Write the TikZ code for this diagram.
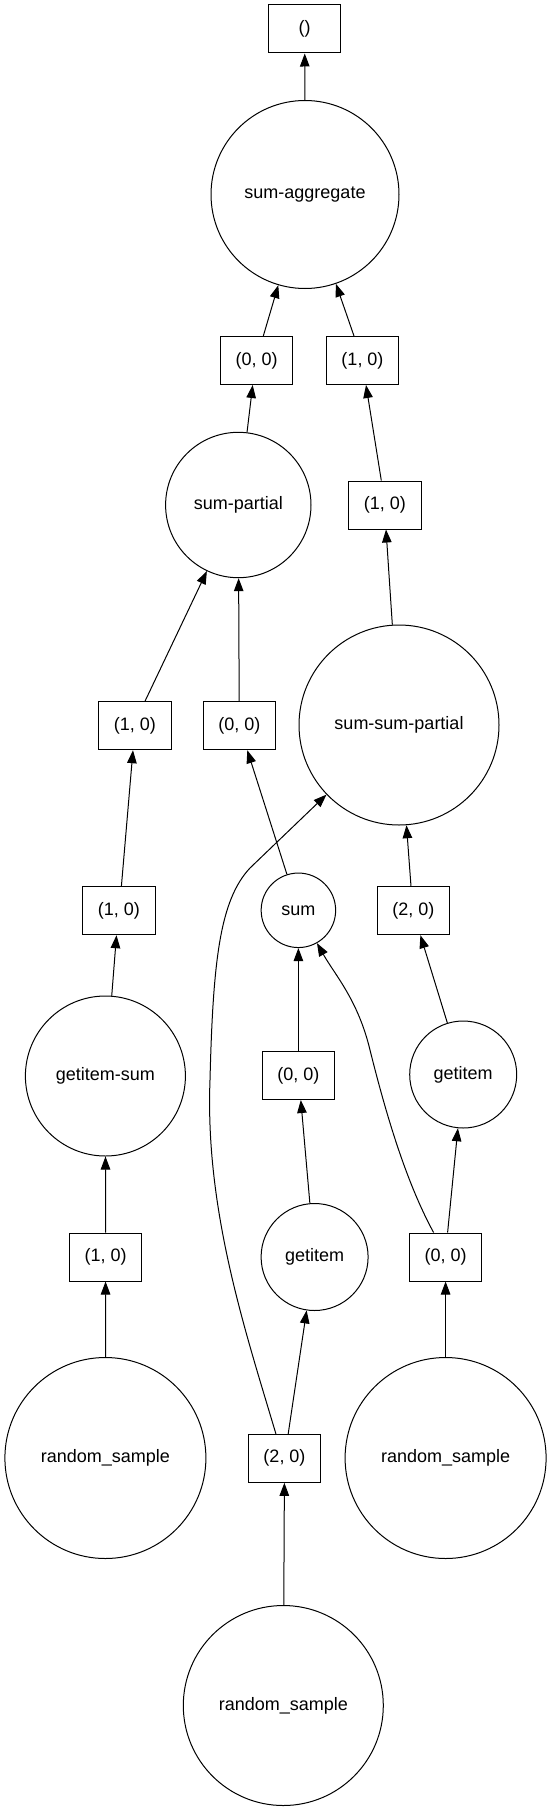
\documentclass[tikz,border=0pt]{standalone}
\usepackage{fontspec}
\setmainfont{Liberation Sans}
\usetikzlibrary{arrows.meta}
\begin{document}
\begin{tikzpicture}[x=1pt,y=-1pt,
  every node/.style={font=\fontsize{18}{21}\selectfont},
  circ/.style={draw,circle,inner sep=0pt,line width=1pt},
  box/.style={draw,rectangle,minimum width=72.5pt,minimum height=48pt,inner sep=0pt,line width=1pt},
  edge/.style={line width=1pt,-{Triangle[length=13pt,width=9.5pt]}}]
\fill[white] (0,0) rectangle (549,1811);
\useasboundingbox (0,0) rectangle (549,1811);
% nodes
\node[box] (top) at (304.7,29) {()};
\node[circ,minimum size=188pt] (agg) at (305,194.5) {sum-aggregate};
\node[box] (a00) at (256.7,360.5) {(0, 0)};
\node[box] (a10) at (362.5,360.5) {(1, 0)};
\node[circ,minimum size=145.4pt] (sp) at (238.3,505) {sum-partial};
\node[box] (b10) at (384.8,505) {(1, 0)};
\node[circ,minimum size=200pt] (ssp) at (399,725) {sum-sum-partial};
\node[box] (c10) at (135,725.7) {(1, 0)};
\node[box] (c00) at (239.3,725.7) {(0, 0)};
\node[box] (d10) at (118.8,910.7) {(1, 0)};
\node[circ,minimum size=74.5pt] (sum) at (298.4,910.3) {sum};
\node[box] (d20) at (413.4,910.7) {(2, 0)};
\node[circ,minimum size=160pt] (gs) at (105.4,1076) {getitem-sum};
\node[box] (e00) at (298.4,1075.5) {(0, 0)};
\node[circ,minimum size=107pt] (gr) at (463.2,1074.5) {getitem};
\node[box] (f10) at (105.6,1257) {(1, 0)};
\node[circ,minimum size=107pt] (gm) at (314.6,1257) {getitem};
\node[box] (f00) at (445.6,1257) {(0, 0)};
\node[circ,minimum size=201pt] (rl) at (105.4,1458) {random\_sample};
\node[box] (g20) at (284.5,1458.3) {(2, 0)};
\node[circ,minimum size=201pt] (rr) at (445.6,1458) {random\_sample};
\node[circ,minimum size=200pt] (rb) at (283.3,1705.5) {random\_sample};
% edges
\draw[edge] (agg) -- (top);
\draw[edge] ([xshift=6.6pt]a00.north) -- (agg);
\draw[edge] ([xshift=-8.5pt]a10.north) -- (agg);
\draw[edge] (sp) -- ([xshift=-4pt]a00.south);
\draw[edge] ([xshift=-3.5pt]b10.north) -- ([xshift=3.5pt]a10.south);
\draw[edge] (ssp) -- ([xshift=1.2pt]b10.south);
\draw[edge] ([xshift=10pt]c10.north) -- (sp);
\draw[edge] (c00) -- (sp);
\draw[edge] ([xshift=2.6pt]d10.north) -- ([xshift=-2pt]c10.south);
\draw[edge] (sum) -- ([xshift=8pt]c00.south);
\draw[edge] ([xshift=-2.4pt]d20.north) -- (ssp);
\draw[edge] (gs) -- ([xshift=-2.3pt]d10.south);
\draw[edge] (e00) -- (sum);
\draw[edge] (gr) -- ([xshift=7pt]d20.south);
\draw[edge] (f10) -- (gs);
\draw[edge] (gm) -- ([xshift=2.4pt]e00.south);
\draw[edge] ([xshift=2pt]f00.north) -- (gr);
\draw[edge] (rl) -- (f10);
\draw[edge] ([xshift=3.7pt]g20.north) -- (gm);
\draw[edge] (rr) -- (f00);
\draw[edge] (rb) -- (g20);
\draw[edge] ([xshift=-8.6pt]g20.north) .. controls (245,1330) and (205,1210) .. (210,1080)
  .. controls (213,960) and (220,900) .. (250,868) -- (ssp);
\draw[edge] ([xshift=-12pt]f00.north) .. controls (405,1180) and (385,1110) .. (370,1050)
  .. controls (358,1000) and (335,975) .. (sum);
\end{tikzpicture}
\end{document}
